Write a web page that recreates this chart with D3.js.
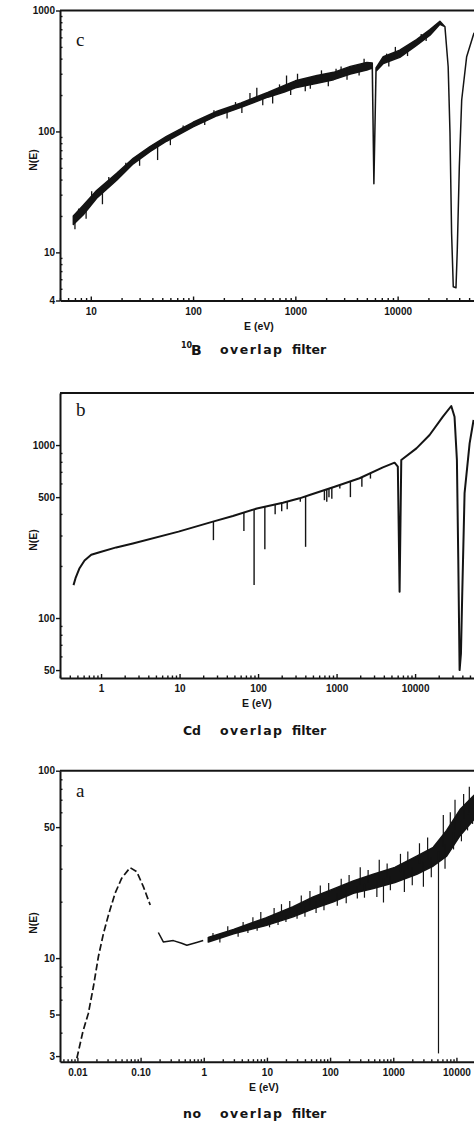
<!DOCTYPE html>
<html>
<head>
<meta charset="utf-8">
<script src="https://cdn.jsdelivr.net/npm/d3@7"></script>
<style>
body{margin:0;background:#fff;}
svg text{font-family:"Liberation Sans",Arial,sans-serif;font-weight:bold;fill:#141414;}
.ink{stroke:#141414;}
</style>
</head>
<body>
<svg id="fig" width="474" height="1124"></svg>
<script>
// ---- panel c : 10B overlap filter (noise band read as lower / upper edge of the core)
var cE  = [6.75, 8.45, 11.4, 17.9, 26, 37.9, 55, 100, 172, 295, 537, 780, 1000, 1630, 2370, 3450, 5000, 5650, 5860, 6150, 7240, 10500, 15300, 20700, 25900, 29000, 31200, 32500, 33700, 35000, 37200, 38300, 40100, 42300, 47300, 55700];
var cLo = [17, 20.5, 28, 39.5, 54, 68, 83, 109, 135, 158, 192, 212, 230, 250, 268, 298, 322, 335, 37, 315, 365, 410, 515, 625, 770, 735, 343, 97, 14.4, 5.2, 5.1, 10.5, 51, 182, 415, 648];
var cHi = [20, 24.5, 32.5, 45, 60, 75, 91, 119, 147, 172, 210, 240, 262, 290, 308, 345, 372, 368, 37, 335, 415, 470, 575, 695, 815, 735, 343, 97, 14.4, 5.2, 5.1, 10.5, 51, 182, 415, 648];
var cSpikeE = [7.0, 7.6, 9.0, 10.2, 13, 15, 22, 30, 45, 60, 80, 130, 160, 215, 260, 300, 360, 420, 480, 600, 700, 820, 900, 1050, 1250, 1400, 1800, 2100, 2500, 2800, 3200, 4200, 4700, 7800, 8200, 9500, 12500, 17000, 19000];
var cSpikeN = [15.5, 23, 19, 32, 25, 42, 55, 52, 58, 77, 112, 113, 150, 128, 175, 142, 208, 230, 165, 170, 245, 290, 200, 300, 215, 225, 320, 236, 330, 345, 268, 290, 400, 440, 345, 500, 420, 640, 560];

// ---- panel b : Cd overlap filter
var bE = [0.446, 0.473, 0.532, 0.616, 0.75, 0.957, 1.56, 2.54, 9.7, 26.6, 47.8, 96.6, 207, 338, 453, 944, 1960, 3890, 5480, 6030, 6350, 6670, 10400, 15300, 22600, 28900, 31800, 34100, 35500, 36900, 38400, 39900, 42700, 49500, 55600];
var bN = [155, 170, 194, 215, 232, 240, 256, 270, 316, 361, 389, 430, 464, 492, 514, 574, 643, 743, 791, 750, 142, 820, 957, 1143, 1459, 1682, 1459, 820, 217, 50, 62.5, 140, 528, 1023, 1396];
var bDipE = [27, 66, 89, 122, 165, 200, 235, 345, 403, 700, 750, 800, 870, 1100, 1500, 2100, 2700];
var bDipN = [282, 318, 155, 250, 398, 415, 425, 470, 258, 480, 470, 500, 490, 560, 500, 575, 640];

// ---- panel a : no overlap filter
var aDashE = [0.0098, 0.0122, 0.0149, 0.0179, 0.0215, 0.0258, 0.031, 0.0395, 0.0503, 0.0682, 0.087, 0.111, 0.142];
var aDashN = [2.92, 4.05, 5.07, 7.03, 10.2, 13.5, 17, 22.2, 26.7, 30.4, 28.9, 24, 19.2];
var aLowE = [0.191, 0.229, 0.33, 0.447, 0.54, 0.77, 0.98];
var aLowN = [13.7, 12.2, 12.4, 12.0, 11.7, 12.1, 12.4];
var aE  = [1.18, 2.97, 9.6, 26, 54, 113, 233, 482, 1060, 2350, 4300, 7000, 11400, 19000];
var aLo = [12.2, 13.5, 14.9, 16.6, 18.3, 20.0, 22.2, 23.5, 25.3, 28, 31, 35, 45, 55];
var aHi = [12.9, 14.2, 16.4, 18.8, 21.2, 23.4, 25.8, 28.0, 30.5, 35, 39, 48, 62, 74];
var aSpikeE = [1.4, 1.8, 2.4, 3.5, 4.2, 5.0, 6.0, 7.0, 8.0, 11, 13, 15, 17, 20, 23, 30, 35, 40, 48, 60, 70, 80, 95, 130, 150, 180, 200, 270, 300, 350, 400, 550, 600, 700, 800, 900, 1300, 1500, 1700, 2000, 2600, 3000, 3500, 4000, 5200, 6200, 6600, 8000, 9000, 9500, 12000, 13000, 15000, 16000, 18000];
var aSpikeN = [13.6, 12.1, 14.8, 13.0, 15.6, 13.6, 16.5, 14.0, 17.6, 14.6, 18.5, 15.0, 19.4, 15.6, 20.2, 16.2, 21.6, 16.6, 22.8, 17.4, 24.4, 18.0, 25.2, 19.0, 26.5, 19.6, 27.8, 20.8, 30.5, 21.0, 29.5, 21.2, 33.5, 19.8, 32, 23.0, 36, 22.5, 37, 24.5, 41, 24.0, 44, 27, 3.1, 58, 30, 60, 38, 70, 42, 75, 48, 82, 52];

// ---- axes
var cXTicks = [10, 100, 1000, 10000], cXLabels = ["10", "100", "1000", "10000"];
var cYTicks = [4, 10, 100, 1000], cYLabels = ["4", "10", "100", "1000"];
var bXTicks = [1, 10, 100, 1000, 10000], bXLabels = ["1", "10", "100", "1000", "10000"];
var bYTicks = [50, 100, 500, 1000], bYLabels = ["50", "100", "500", "1000"];
var aXTicks = [0.01, 0.1, 1, 10, 100, 1000, 10000], aXLabels = ["0.01", "0.10", "1", "10", "100", "1000", "10000"];
var aYTicks = [3, 5, 10, 50, 100], aYLabels = ["3", "5", "10", "50", "100"];

var svg = d3.select('#fig');
var left = 60, right = 490;
var capFont = '"DejaVu Sans", sans-serif';

function zip(e, n){ return e.map((v, i) => ({e: v, n: n[i]})); }

function drawAxes(p){
	var x = d3.scaleLog().domain(p.xDomain).range([left, right]);
	var y = d3.scaleLog().domain(p.yDomain).range([p.bottom, p.top]);
	var g = svg.append('g');

	// minor ticks
	var xMinor = x.ticks().filter(v => p.xTicks.indexOf(v) < 0);
	var yMinor = y.ticks().filter(v => p.yTicks.indexOf(v) < 0);
	g.append('g').attr('transform', `translate(0, ${p.bottom})`)
		.call(d3.axisBottom(x).tickValues(xMinor).tickFormat('').tickSize(-2.5).tickSizeOuter(0))
		.call(a => a.select('.domain').remove());
	g.append('g').attr('transform', `translate(${left}, 0)`)
		.call(d3.axisLeft(y).tickValues(yMinor).tickFormat('').tickSize(-2.5).tickSizeOuter(0))
		.call(a => a.select('.domain').remove());

	// major ticks
	g.append('g').attr('transform', `translate(0, ${p.bottom})`)
		.call(d3.axisBottom(x).tickValues(p.xTicks).tickFormat((d, i) => p.xLabels[i]).tickSize(-4).tickSizeOuter(0).tickPadding(7))
		.call(a => a.selectAll('text').attr('font-size', 10).attr('font-family', null));
	g.append('g').attr('transform', `translate(${left}, 0)`)
		.call(d3.axisLeft(y).tickValues(p.yTicks).tickFormat((d, i) => p.yLabels[i]).tickSize(4).tickSizeOuter(0).tickPadding(1))
		.call(a => a.selectAll('text').attr('font-size', 10).attr('font-family', null));

	g.selectAll('.domain').attr('stroke', '#141414').attr('stroke-width', 2);
	g.selectAll('.tick line').attr('stroke', '#141414').attr('stroke-width', 1.4);

	// top frame
	g.append('line').attr('class', 'ink')
		.attr('x1', left).attr('x2', right)
		.attr('y1', p.top).attr('y2', p.top)
		.attr('stroke-width', 2);

	// panel letter
	g.append('text')
		.attr('x', 76).attr('y', p.letterY)
		.attr('font-size', 19)
		.style('font-family', '"Liberation Serif", serif')
		.style('font-weight', 'normal')
		.text(p.letter);

	// axis titles
	g.append('text')
		.attr('transform', `translate(37, ${p.nY}) rotate(-90)`)
		.attr('text-anchor', 'middle')
		.attr('font-size', 10.5)
		.text('N(E)');
	g.append('text')
		.attr('x', p.eX).attr('y', p.bottom + 29)
		.attr('text-anchor', 'middle')
		.attr('font-size', 10.5)
		.text('E (eV)');

	// caption
	var cap = g.append('g').style('font-family', capFont);
	if(p.iso){
		cap.append('text').attr('x', 181).attr('y', p.capY - 6).attr('font-size', 8).style('font-family', capFont).text(p.iso);
		cap.append('text').attr('x', 191).attr('y', p.capY + 1).attr('font-size', 14).style('font-family', capFont).text(p.prefix);
	}else{
		cap.append('text').attr('x', 183).attr('y', p.capY).attr('font-size', 12.5).style('font-family', capFont)
			.attr('textLength', 18).attr('lengthAdjust', 'spacing').text(p.prefix);
	}
	cap.append('text').attr('x', 220).attr('y', p.capY).attr('font-size', 12.5).style('font-family', capFont)
		.attr('textLength', 62).attr('lengthAdjust', 'spacing').text('overlap');
	cap.append('text').attr('x', 292).attr('y', p.capY).attr('font-size', 12.5).style('font-family', capFont)
		.attr('textLength', 34).attr('lengthAdjust', 'spacing').text('filter');

	return {g: g, x: x, y: y};
}

function drawBand(P, e, lo, hi){
	var pts = e.map((v, i) => ({e: v, lo: lo[i], hi: hi[i]}));
	P.g.append('path')
		.datum(pts)
		.attr('class', 'ink')
		.attr('fill', '#141414')
		.attr('stroke-width', 1.5)
		.attr('stroke-linejoin', 'round')
		.attr('d', d3.area()
			.x(d => P.x(d.e))
			.y0(d => P.y(d.lo))
			.y1(d => P.y(d.hi)));
}

// vertical hairs from a base curve to the read tip value
function drawSpikes(P, baseE, baseN, tipE, tipN, w){
	var base = d3.scaleLog().domain(baseE).range(baseN);
	P.g.selectAll(null)
		.data(zip(tipE, tipN))
		.join('line')
			.attr('class', 'ink')
			.attr('stroke-width', w)
			.attr('x1', d => P.x(d.e)).attr('x2', d => P.x(d.e))
			.attr('y1', d => P.y(base(d.e))).attr('y2', d => P.y(d.n));
}

function drawLine(P, e, n, w, dash){
	var l = P.g.append('path')
		.datum(zip(e, n))
		.attr('class', 'ink')
		.attr('fill', 'none')
		.attr('stroke-width', w)
		.attr('stroke-linejoin', 'round')
		.attr('d', d3.line().x(d => P.x(d.e)).y(d => P.y(d.n)));
	if(dash) l.attr('stroke-dasharray', dash);
}

// panel c
var PC = drawAxes({xDomain: [5, 80000], yDomain: [4, 1000], top: 10.5, bottom: 300.5,
	xTicks: cXTicks, xLabels: cXLabels, yTicks: cYTicks, yLabels: cYLabels,
	letter: 'c', letterY: 46, nY: 160, eX: 259, capY: 354, iso: '10', prefix: 'B'});
drawBand(PC, cE, cLo, cHi);
drawSpikes(PC, cE, cE.map((v, i) => Math.sqrt(cLo[i] * cHi[i])), cSpikeE, cSpikeN, 1.3);

// panel b
var PB = drawAxes({xDomain: [0.3, 90000], yDomain: [45, 2000], top: 393, bottom: 678,
	xTicks: bXTicks, xLabels: bXLabels, yTicks: bYTicks, yLabels: bYLabels,
	letter: 'b', letterY: 416, nY: 540, eX: 257, capY: 735, prefix: 'Cd'});
drawLine(PB, bE, bN, 2);
drawSpikes(PB, bE, bN, bDipE, bDipN, 1.4);

// panel a
var PA = drawAxes({xDomain: [0.0053, 34000], yDomain: [2.8, 100], top: 770.7, bottom: 1061.7,
	xTicks: aXTicks, xLabels: aXLabels, yTicks: aYTicks, yLabels: aYLabels,
	letter: 'a', letterY: 797, nY: 923, eX: 264, capY: 1118, prefix: 'no'});
drawLine(PA, aDashE, aDashN, 1.7, '7,3');
drawLine(PA, aLowE, aLowN, 1.5);
drawBand(PA, aE, aLo, aHi);
drawSpikes(PA, aE, aE.map((v, i) => Math.sqrt(aLo[i] * aHi[i])), aSpikeE, aSpikeN, 1.2);
</script>
</body>
</html>
